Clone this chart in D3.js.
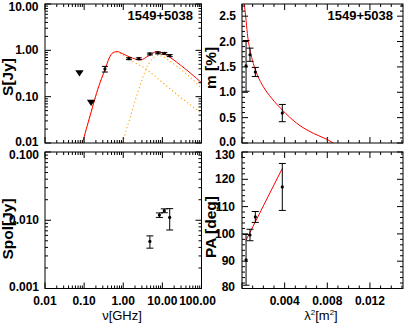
<!DOCTYPE html>
<html><head><meta charset="utf-8">
<script src="https://cdn.jsdelivr.net/npm/d3@7"></script>
<style>
html,body{margin:0;padding:0;background:#fff;}
text{font-family:"Liberation Sans",Arial,Helvetica,sans-serif;}
</style></head>
<body>
<svg id="c" width="407" height="323"></svg>
<script>
// ---------- data ----------
const sourceName = "1549+5038";
// total flux: upper limits
const limFreq = [0.076, 0.151];
const limFlux = [0.32, 0.074];
// total flux: measurements
const sFreq = [0.34, 1.4, 2.5, 4.8, 7.7, 11.2, 15.4];
const sFlux = [0.395, 0.66, 0.66, 0.835, 0.88, 0.86, 0.77];
const sErr  = [0.055, 0.03, 0.03, 0.04, 0.04, 0.04, 0.04];
// fitted spectrum
const fitFreq = [0.0905, 0.151, 0.229, 0.345, 0.438, 0.555, 0.70, 0.94, 1.51, 2.73, 4.38, 7.3, 11.9, 29, 100];
const fitFlux = [0.01, 0.0467, 0.154, 0.395, 0.68, 0.90, 0.94, 0.855, 0.71, 0.62, 0.755, 0.94, 0.81, 0.48, 0.2];
const comp1Freq = [0.0905, 0.151, 0.229, 0.345, 0.438, 0.555, 0.70, 0.94, 1.51, 2.15, 3.66, 6.62, 19.1, 100];
const comp1Flux = [0.01, 0.0467, 0.154, 0.395, 0.676, 0.885, 0.92, 0.813, 0.634, 0.52, 0.405, 0.272, 0.129, 0.044];
const comp2Freq = [0.97, 1.19, 1.51, 2.24, 3.07, 3.89, 4.92, 6.23, 7.45, 9.42, 16.0, 41.2, 100];
const comp2Flux = [0.01, 0.019, 0.036, 0.109, 0.24, 0.416, 0.574, 0.718, 0.773, 0.755, 0.574, 0.308, 0.151];
// fractional polarization vs lambda^2
const lam2 = [0.00038, 0.00075, 0.00125, 0.00378];
const mPct = [1.52, 1.74, 1.40, 0.59];
const mErr = [0.50, 0.13, 0.09, 0.17];
const mFitLam2 = [0.000216, 0.000347, 0.0005, 0.00075, 0.00106, 0.00144, 0.002, 0.00279, 0.00378, 0.00513, 0.00669, 0.00795, 0.00857];
const mFitPct  = [2.74, 2.49, 2.16, 1.83, 1.57, 1.34, 1.11, 0.88, 0.65, 0.39, 0.19, 0.073, 0.0];
// polarized flux vs frequency
const polFreq = [4.8, 8.4, 11.2, 15.4];
const polFlux = [0.0049, 0.0119, 0.0138, 0.0110];
const polErr  = [0.0010, 0.0009, 0.0009, 0.0038];
// position angle vs lambda^2
const pa    = [90.5, 99.6, 106.2, 117.2];
const paErr = [9.3, 2.1, 2.0, 8.6];
const paFitLam2 = [0.00038, 0.00378];
const paFitPA   = [97.7, 124.0];
// tick labels
const freqTickLabels = ["0.01", "0.10", "1.00", "10.00", "100.00"];
const sTickLabels = ["0.01", "0.10", "1.00", "10.00"];
const polTickLabels = ["0.001", "0.010", "0.100"];
const mTickLabels = ["0.0", "0.5", "1.0", "1.5", "2.0", "2.5"];
const paTickLabels = ["80", "90", "100", "110", "120", "130"];
const lamTickLabels = ["0.004", "0.008", "0.012"];

// ---------- layout ----------
const svg = d3.select("#c");
const L = {x0: 45, x1: 201.5}, R = {x0: 242, x1: 403};
const T = {y0: 4, y1: 143}, B = {y0: 152, y1: 288.5};

const xF = d3.scaleLog().domain([0.01, 100]).range([L.x0, L.x1]);
const yS = d3.scaleLog().domain([0.01, 10]).range([T.y1, T.y0]);
const yP = d3.scaleLog().domain([0.001, 0.1]).range([B.y1, B.y0]);
const xL = d3.scaleLinear().domain([0, 0.0151]).range([R.x0, R.x1]);
const yM = d3.scaleLinear().domain([0, 2.74]).range([T.y1, T.y0]);
const yA = d3.scaleLinear().domain([80, 130]).range([B.y1, B.y0]);

const MAJ = 6, MIN = 3;
function logTicks(lo, hi) {
  const out = [];
  for (let d = Math.round(Math.log10(lo)); d <= Math.round(Math.log10(hi)); d++) {
    for (let k = 1; k <= 9; k++) {
      const v = k * Math.pow(10, d);
      if (v >= lo * 0.999 && v <= hi * 1.001) out.push({v, len: k === 1 ? MAJ : MIN});
    }
  }
  return out;
}
function linTicks(lo, hi, major, minor) {
  const out = [];
  const n = Math.round((hi - lo) / minor);
  for (let i = 0; i <= n + 1; i++) {
    const v = lo + i * minor;
    if (v > hi + 1e-12) break;
    const isMaj = Math.abs(v / major - Math.round(v / major)) < 1e-6;
    out.push({v, len: isMaj ? MAJ : MIN});
  }
  return out;
}
function frame(box, xs, ys, xt, yt) {
  const g = svg.append("g").attr("stroke", "#000").attr("stroke-width", 1).attr("fill", "none");
  g.append("rect").attr("x", box.x0).attr("y", box.y0)
    .attr("width", box.x1 - box.x0).attr("height", box.y1 - box.y0);
  xt.forEach(t => {
    const x = xs(t.v);
    g.append("line").attr("x1", x).attr("x2", x).attr("y1", box.y1).attr("y2", box.y1 - t.len);
    g.append("line").attr("x1", x).attr("x2", x).attr("y1", box.y0).attr("y2", box.y0 + t.len);
  });
  yt.forEach(t => {
    const y = ys(t.v);
    g.append("line").attr("x1", box.x0).attr("x2", box.x0 + t.len).attr("y1", y).attr("y2", y);
    g.append("line").attr("x1", box.x1).attr("x2", box.x1 - t.len).attr("y1", y).attr("y2", y);
  });
}
function clip(id, box) {
  svg.append("clipPath").attr("id", id).append("rect")
    .attr("x", box.x0).attr("y", box.y0).attr("width", box.x1 - box.x0).attr("height", box.y1 - box.y0);
}
const boxTL = {x0: L.x0, x1: L.x1, y0: T.y0, y1: T.y1};
const boxTR = {x0: R.x0, x1: R.x1, y0: T.y0, y1: T.y1};
const boxBL = {x0: L.x0, x1: L.x1, y0: B.y0, y1: B.y1};
const boxBR = {x0: R.x0, x1: R.x1, y0: B.y0, y1: B.y1};
clip("cTL", boxTL); clip("cTR", boxTR); clip("cBL", boxBL); clip("cBR", boxBR);

function errBars(g, xs, ys, xv, yv, ev, cap) {
  xv.forEach((xx, i) => {
    const x = xs(xx), ylo = ys(yv[i] - ev[i]), yhi = ys(yv[i] + ev[i]);
    g.append("line").attr("x1", x).attr("x2", x).attr("y1", ylo).attr("y2", yhi);
    g.append("line").attr("x1", x - cap).attr("x2", x + cap).attr("y1", ylo).attr("y2", ylo);
    g.append("line").attr("x1", x - cap).attr("x2", x + cap).attr("y1", yhi).attr("y2", yhi);
  });
}
function dots(g, xs, ys, xv, yv) {
  xv.forEach((xx, i) => g.append("circle").attr("cx", xs(xx)).attr("cy", ys(yv[i])).attr("r", 1.6).attr("fill", "#000"));
}
const curve = (xs, ys) => d3.line().x(d => xs(d[0])).y(d => ys(d[1])).curve(d3.curveMonotoneX);

// ---------- top-left: spectrum ----------
{
  const g = svg.append("g").attr("clip-path", "url(#cTL)");
  const orange = {stroke: "#ffa500", "stroke-width": 1.1, "stroke-dasharray": "1.2,2.6", fill: "none"};
  [[comp1Freq, comp1Flux], [comp2Freq, comp2Flux]].forEach(([fx, fy]) => {
    const p = g.append("path").attr("d", curve(xF, yS)(fx.map((f, i) => [f, fy[i]])));
    Object.entries(orange).forEach(([k, v]) => p.attr(k, v));
  });
  g.append("path").attr("d", curve(xF, yS)(fitFreq.map((f, i) => [f, fitFlux[i]])))
    .attr("stroke", "#ff0000").attr("stroke-width", 1).attr("fill", "none");
  const eg = g.append("g").attr("stroke", "#000").attr("stroke-width", 1);
  errBars(eg, xF, yS, sFreq, sFlux, sErr, 3);
  dots(g, xF, yS, sFreq, sFlux);
  limFreq.forEach((f, i) => {
    const x = xF(f), y = yS(limFlux[i]);
    g.append("path").attr("d", `M${x - 4.2},${y - 3}L${x + 4.2},${y - 3}L${x},${y + 3.2}Z`).attr("fill", "#000");
  });
}
frame(boxTL, xF, yS, logTicks(0.01, 100), logTicks(0.01, 10));

// ---------- top-right: m% ----------
{
  const g = svg.append("g").attr("clip-path", "url(#cTR)");
  g.append("path").attr("d", curve(xL, yM)(mFitLam2.map((l, i) => [l, mFitPct[i]])))
    .attr("stroke", "#ff0000").attr("stroke-width", 1).attr("fill", "none");
  const eg = g.append("g").attr("stroke", "#000").attr("stroke-width", 1);
  errBars(eg, xL, yM, lam2, mPct, mErr, 3.5);
  dots(g, xL, yM, lam2, mPct);
}
frame(boxTR, xL, yM, linTicks(0, 0.0151, 0.004, 0.001), linTicks(0, 2.74, 0.5, 0.1));

// ---------- bottom-left: polarized flux ----------
{
  const g = svg.append("g").attr("clip-path", "url(#cBL)");
  const eg = g.append("g").attr("stroke", "#000").attr("stroke-width", 1);
  errBars(eg, xF, yP, polFreq, polFlux, polErr, 3.5);
  dots(g, xF, yP, polFreq, polFlux);
}
frame(boxBL, xF, yP, logTicks(0.01, 100), logTicks(0.001, 0.1));

// ---------- bottom-right: PA ----------
{
  const g = svg.append("g").attr("clip-path", "url(#cBR)");
  g.append("path").attr("d", d3.line().x(d => xL(d[0])).y(d => yA(d[1]))(paFitLam2.map((l, i) => [l, paFitPA[i]])))
    .attr("stroke", "#ff0000").attr("stroke-width", 1).attr("fill", "none");
  const eg = g.append("g").attr("stroke", "#000").attr("stroke-width", 1);
  errBars(eg, xL, yA, lam2, pa, paErr, 3.5);
  dots(g, xL, yA, lam2, pa);
}
frame(boxBR, xL, yA, linTicks(0, 0.0151, 0.004, 0.001), linTicks(80, 130, 10, 2));

// ---------- labels ----------
// small vertical nudges keep labels at panel corners inside the picture / apart
const nudgeTop = 3, nudgeBottom = -1.5;
function yLab(ys, v, lo, hi) { return ys(v) + (v === hi ? nudgeTop : v === lo ? nudgeBottom : 0); }
const lab = svg.append("g").attr("font-size", 12).attr("font-weight", "bold").attr("fill", "#000");
sTickLabels.forEach(s => lab.append("text").attr("x", 38.5).attr("y", yLab(yS, +s, 0.01, 10)).attr("text-anchor", "end").attr("dominant-baseline", "central").text(s));
polTickLabels.forEach(s => lab.append("text").attr("x", 39).attr("y", yLab(yP, +s, 0.001, 0.1) + (+s === 0.1 ? -0.5 : 0)).attr("text-anchor", "end").attr("dominant-baseline", "central").text(s));
mTickLabels.forEach(s => lab.append("text").attr("x", 236).attr("y", yLab(yM, +s, 0, 2.74)).attr("text-anchor", "end").attr("dominant-baseline", "central").text(s));
paTickLabels.forEach(s => lab.append("text").attr("x", 235).attr("y", yLab(yA, +s, 80, 130) + (+s === 130 ? -0.5 : 0)).attr("text-anchor", "end").attr("dominant-baseline", "central").text(s));
freqTickLabels.forEach((s, i) => lab.append("text").attr("x", i === 4 ? xF(+s) - 4 : xF(+s)).attr("y", 304.5).attr("text-anchor", "middle").text(s));
lamTickLabels.forEach(s => lab.append("text").attr("x", xL(+s)).attr("y", 304.5).attr("text-anchor", "middle").text(s));

const ttl = svg.append("g").attr("font-size", 13).attr("font-weight", "bold");
ttl.append("text").attr("x", 193).attr("y", 19.5).attr("text-anchor", "end").text(sourceName);
ttl.append("text").attr("x", 393).attr("y", 19.5).attr("text-anchor", "end").text(sourceName);

const yt = svg.append("g").attr("font-size", 15.5).attr("font-weight", "bold");
[["S[Jy]", 12.5, 77], ["Spol[Jy]", 12.5, 229], ["m [%]", 216, 68], ["PA [deg]", 216, 227]].forEach(([t, x, y]) =>
  yt.append("text").attr("transform", `translate(${x},${y}) rotate(-90)`).attr("text-anchor", "middle").text(t));

const xt = svg.append("g").attr("font-size", 13);
xt.append("text").attr("x", 122).attr("y", 319.5).attr("text-anchor", "middle").text("ν[GHz]");
const lt = xt.append("text").attr("x", 321).attr("y", 319.5).attr("text-anchor", "middle");
lt.append("tspan").text("λ");
lt.append("tspan").attr("font-size", 8).attr("dy", -5).text("2");
lt.append("tspan").attr("dy", 5).text("[m");
lt.append("tspan").attr("font-size", 8).attr("dy", -5).text("2");
lt.append("tspan").attr("dy", 5).text("]");
</script>
</body></html>
